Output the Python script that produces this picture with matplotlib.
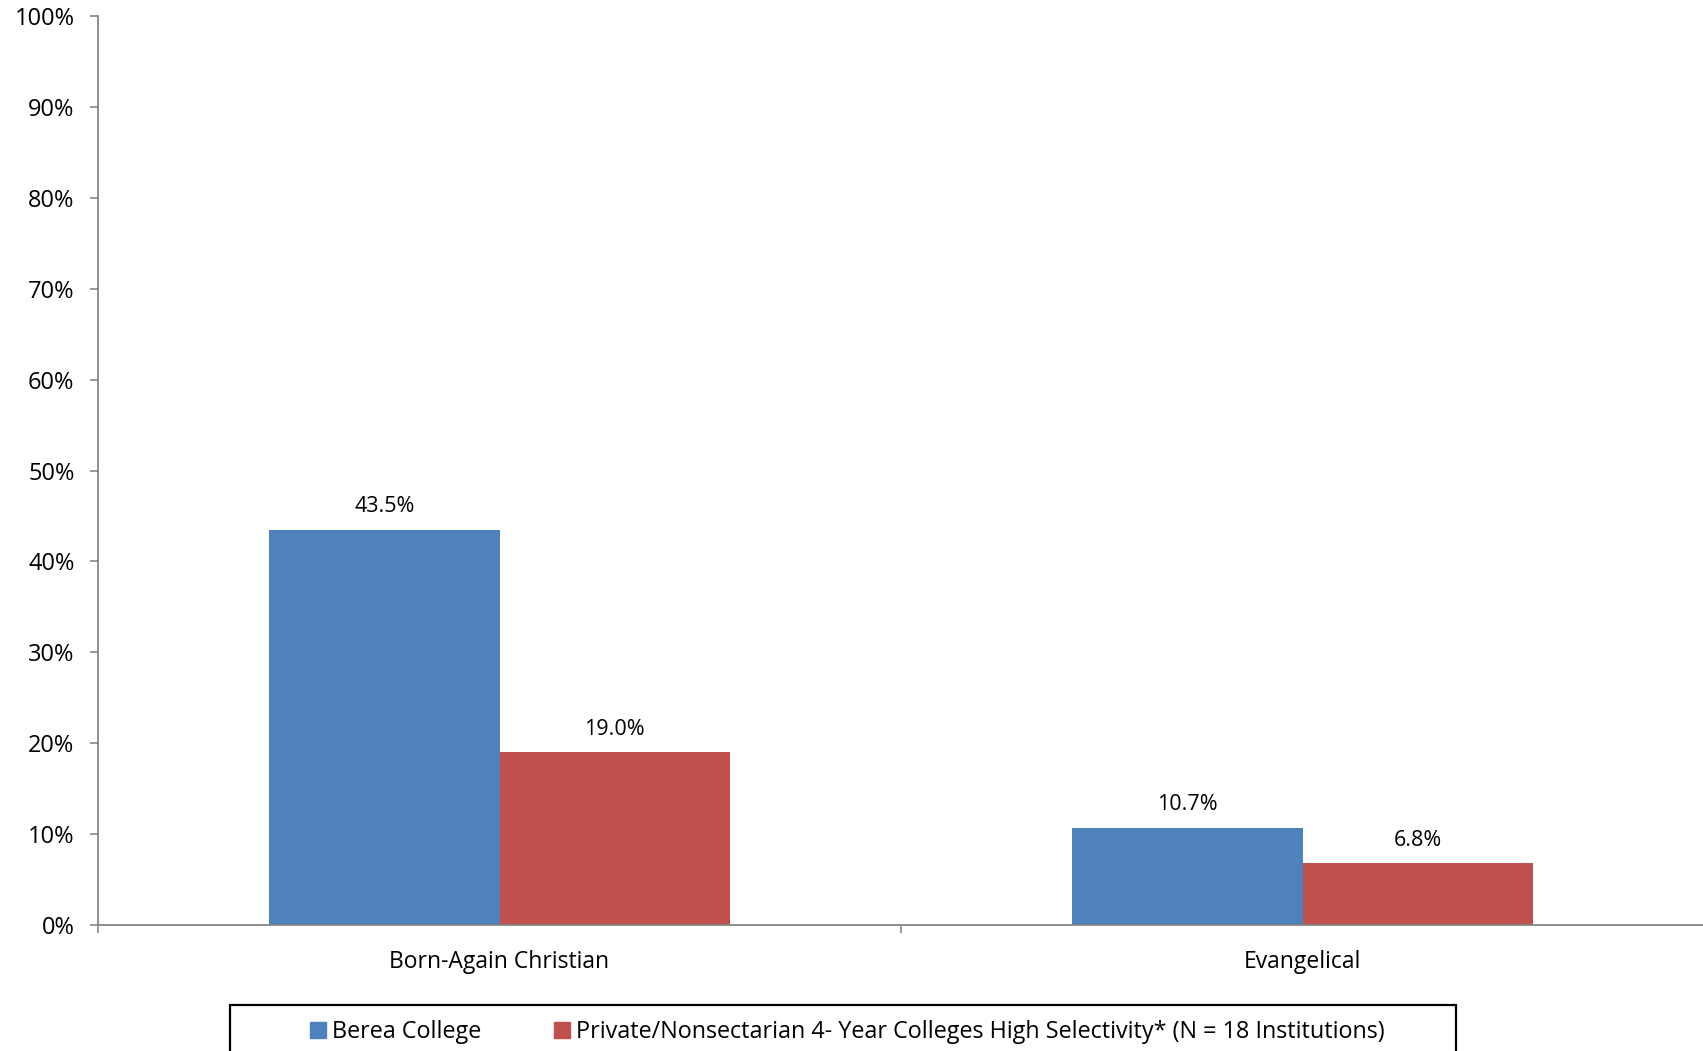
import matplotlib
matplotlib.use("Agg")
import matplotlib.pyplot as plt
from matplotlib.patches import Rectangle
from matplotlib.lines import Line2D
import numpy as np

plt.rcParams['font.family'] = ['Open Sans', 'DejaVu Sans']

categories = ["Born-Again Christian", "Evangelical"]
series_names = ["Berea College",
                "Private/Nonsectarian 4- Year Colleges High Selectivity* (N = 18 Institutions)"]
berea = [43.5, 10.7]
private = [19.0, 6.8]
colors = ["#4F81BD", "#C0504D"]
yticks = [0, 10, 20, 30, 40, 50, 60, 70, 80, 90, 100]

W, H = 1703, 1051
fig = plt.figure(figsize=(W / 100, H / 100), dpi=100)
ax = fig.add_axes([98 / W, 1 - 925 / H, (1704 - 98) / W, (925 - 16) / H])

x = np.arange(len(categories))
bw = 0.2865
for i, (vals, c) in enumerate(zip([berea, private], colors)):
    xs = x + (i - 0.5) * bw
    ax.bar(xs, vals, width=bw, color=c, edgecolor='none', zorder=2)
    for xi, v in zip(xs, vals):
        ax.annotate(f"{v:.1f}%", (xi, v), xytext=(0, 9), textcoords='offset points',
                    ha='center', va='bottom', fontsize=15.5, color='#000000')

ax.set_xlim(-0.5, 1.5)
ax.set_ylim(0, 100)
ax.set_yticks(yticks)
ax.set_yticklabels([f"{t}%" for t in yticks], fontsize=17)
ax.set_xticks([-0.5, 0.5, 1.5])
ax.set_xticklabels([])
ax.set_xticks(x, minor=True)
ax.set_xticklabels(categories, minor=True, fontsize=16.5)
ax.tick_params(axis='x', which='minor', length=0, pad=18)
ax.tick_params(axis='x', which='major', length=6, color='#868686', width=1.2)
ax.tick_params(axis='y', length=6, color='#868686', width=1.2, pad=11)

for side in ['top', 'right']:
    ax.spines[side].set_visible(False)
for side in ['left', 'bottom']:
    ax.spines[side].set_color('#868686')
    ax.spines[side].set_linewidth(1.3)
ax.spines['bottom'].set_zorder(3)

# Legend box running off the bottom edge
fig.patches.append(Rectangle((230 / W, 1 - 1060 / H), (1456 - 230) / W, 55 / H,
                             transform=fig.transFigure, fill=False, edgecolor='black',
                             linewidth=1.6, clip_on=False))
handles = [Line2D([], [], marker='s', linestyle='none', markersize=11,
                  markerfacecolor=c, markeredgecolor=c) for c in colors]
fig.legend(handles, series_names, loc='center left',
           bbox_to_anchor=(307 / W, 1 - 1032 / H), ncol=2, frameon=False,
           fontsize=16.8, handletextpad=0.15, columnspacing=3.05, handlelength=0.9,
           borderpad=0, borderaxespad=0)

fig.savefig("out.png", dpi=100)
